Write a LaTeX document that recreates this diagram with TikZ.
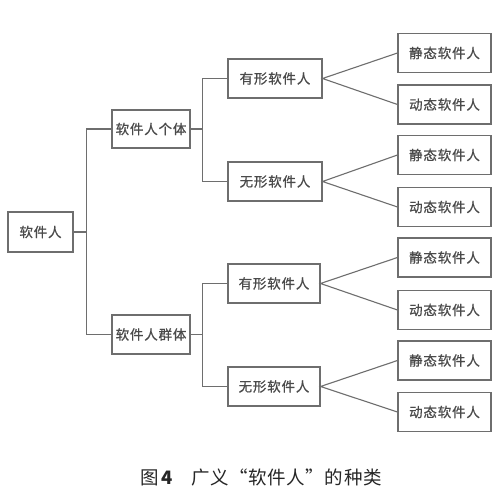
\documentclass[tikz,border=0pt]{standalone}
\usepackage{fontspec}
\newfontfamily\cjk[LetterSpace=6,FakeBold=0.8]{Noto Sans CJK SC}
\newfontfamily\cjkcap[LetterSpace=3]{Noto Sans CJK SC}
\definecolor{linegray}{HTML}{6E6E6E}
\definecolor{textgray}{HTML}{4A4A4A}
\begin{document}
\begin{tikzpicture}[x=1pt,y=-1pt,
  box/.style={draw=linegray, line width=1.1pt, fill=white, inner sep=0pt,
    minimum height=39pt, text=textgray, font=\cjk\fontsize{13.5}{15}\selectfont},
  leaf/.style={box, minimum width=93pt},
  mid/.style={box, minimum width=93pt},
  conn/.style={draw=linegray, line width=1.1pt}]
\useasboundingbox (0,0) rectangle (499,494);
\fill[white] (0,0) rectangle (499,494);
% nodes
\node[box, minimum width=65pt, minimum height=40pt] (root) at (40.5,232) {软件人};
\node[box, minimum width=78pt, minimum height=38pt] (ind) at (151,129) {软件人个体};
\node[box, minimum width=78pt] (grp) at (151,334.5) {软件人群体};
\node[mid, minimum width=94pt] (ya) at (275,78.5) {有形软件人};
\node[mid, minimum width=94pt] (wa) at (275,181.5) {无形软件人};
\node[mid, minimum width=92pt] (yb) at (274,283.5) {有形软件人};
\node[mid, minimum width=92pt] (wb) at (274,386.5) {无形软件人};
\node[leaf] (l1) at (444.5,53) {静态软件人};
\node[leaf] (l2) at (444.5,104.5) {动态软件人};
\node[leaf] (l3) at (444.5,155) {静态软件人};
\node[leaf] (l4) at (444.5,207) {动态软件人};
\node[leaf] (l5) at (444.5,257.5) {静态软件人};
\node[leaf] (l6) at (444.5,310) {动态软件人};
\node[leaf] (l7) at (444.5,360.5) {静态软件人};
\node[leaf] (l8) at (444.5,412) {动态软件人};
% elbow connectors
\draw[conn] (root.east) -- ++(13,0) |- (ind.west);
\draw[conn] (root.east) -- ++(13,0) |- (grp.west);
\draw[conn] (ind.east) -- ++(12,0) |- (ya.west);
\draw[conn] (ind.east) -- ++(12,0) |- (wa.west);
\draw[conn] (grp.east) -- ++(12,0) |- (yb.west);
\draw[conn] (grp.east) -- ++(12,0) |- (wb.west);
% fans
\draw[conn] (l1.west) -- (ya.east) -- (l2.west);
\draw[conn] (l3.west) -- (wa.east) -- (l4.west);
\draw[conn] (l5.west) -- (yb.east) -- (l6.west);
\draw[conn] (l7.west) -- (wb.east) -- (l8.west);
% caption
\node[anchor=west, inner sep=0pt, text=black!85, font=\cjkcap\fontsize{18.5}{20}\selectfont] (cap) at (140,477)
  {图\,\textbf{4}\hspace{18pt}广义“软件人”的种类};
\end{tikzpicture}
\end{document}
